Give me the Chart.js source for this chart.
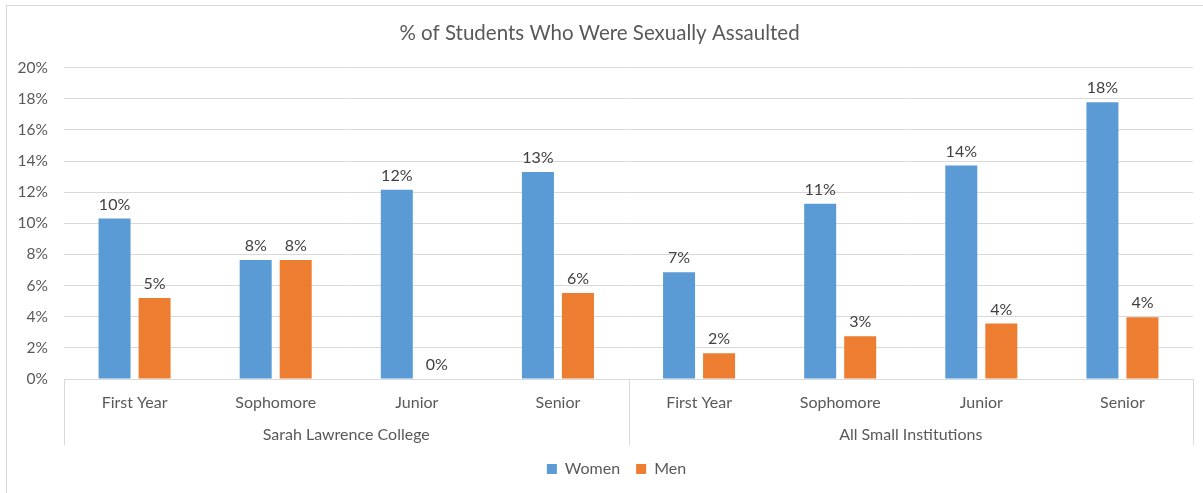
<!DOCTYPE html>
<html>
<head>
<meta charset="utf-8">
<script src="https://cdn.jsdelivr.net/npm/chart.js@4/dist/chart.umd.min.js"></script>
<style>
  html, body { margin: 0; padding: 0; background: #ffffff; }
  #wrap { position: absolute; left: 0; top: 0; width: 1203px; height: 493px; }
</style>
</head>
<body>
<div id="wrap"><canvas id="c" width="1203" height="493"></canvas></div>
<script>
const categories = ['First Year', 'Sophomore', 'Junior', 'Senior', 'First Year', 'Sophomore', 'Junior', 'Senior'];
const groups = ['Sarah Lawrence College', 'All Small Institutions'];
const women = [10.31, 7.65, 12.15, 13.29, 6.86, 11.25, 13.72, 17.77];
const men = [5.21, 7.65, 0, 5.53, 1.65, 2.74, 3.56, 3.96];
const yTicks = [0, 2, 4, 6, 8, 10, 12, 14, 16, 18, 20];

const FONT = 'Lato, "Open Sans", sans-serif';
const TEXT = '#595959';
const GRID = '#d9d9d9';

const framePlugin = {
  id: 'frame',
  beforeDraw(chart) {
    const ctx = chart.ctx;
    ctx.save();
    ctx.fillStyle = '#ffffff';
    ctx.fillRect(0, 0, chart.width, chart.height);
    ctx.strokeStyle = GRID;
    ctx.lineWidth = 1;
    ctx.strokeRect(6.5, 5.5, chart.width + 10, chart.height + 10);
    ctx.restore();
  }
};

const legendShiftPlugin = {
  id: 'legendShift',
  afterLayout(chart) {
    const lg = chart.legend;
    if (!lg) return;
    lg.left += 17; lg.right += 17;
  }
};

const groupAxisPlugin = {
  id: 'groupAxis',
  afterDraw(chart) {
    const x = chart.scales.x;
    const ctx = chart.ctx;
    const top = x.top;
    const bottom = x.top + 66;
    const mid = (x.getPixelForValue(3) + x.getPixelForValue(4)) / 2;
    ctx.save();
    ctx.strokeStyle = GRID;
    ctx.lineWidth = 1;
    [x.left, mid, x.right].forEach(px => {
      const p = Math.round(px) + 0.5;
      ctx.beginPath();
      ctx.moveTo(p, top);
      ctx.lineTo(p, bottom);
      ctx.stroke();
    });
    ctx.fillStyle = TEXT;
    ctx.font = '16px ' + FONT;
    ctx.textAlign = 'center';
    ctx.textBaseline = 'middle';
    ctx.fillText(groups[0], (x.left + mid) / 2, top + 56);
    ctx.fillText(groups[1], (mid + x.right) / 2, top + 56);
    ctx.restore();
  }
};

const dataLabelPlugin = {
  id: 'dataLabels',
  afterDatasetsDraw(chart) {
    const ctx = chart.ctx;
    ctx.save();
    ctx.fillStyle = '#404040';
    ctx.font = '16px ' + FONT;
    ctx.textAlign = 'center';
    ctx.textBaseline = 'bottom';
    chart.data.datasets.forEach((ds, di) => {
      const meta = chart.getDatasetMeta(di);
      meta.data.forEach((bar, i) => {
        ctx.fillText(Math.round(ds.data[i]) + '%', bar.x, bar.y - 6);
      });
    });
    ctx.restore();
  }
};

new Chart(document.getElementById('c'), {
  type: 'bar',
  data: {
    labels: categories,
    datasets: [
      { label: 'Women', data: women, backgroundColor: '#5b9bd5', categoryPercentage: 0.567, barPercentage: 0.8 },
      { label: 'Men', data: men, backgroundColor: '#ed7d31', categoryPercentage: 0.567, barPercentage: 0.8 }
    ]
  },
  options: {
    responsive: false,
    animation: false,
    devicePixelRatio: 1,
    layout: { padding: { left: 6, right: 10, top: 0, bottom: 6 } },
    plugins: {
      title: {
        display: true,
        text: '% of Students Who Were Sexually Assaulted',
        color: TEXT,
        font: { family: FONT, size: 20.5, weight: 'normal' },
        padding: { top: 21, bottom: 22 }
      },
      legend: {
        position: 'bottom',
        labels: {
          color: TEXT,
          font: { family: FONT, size: 16 },
          boxWidth: 10,
          boxHeight: 10,
          padding: 16
        }
      },
      tooltip: { enabled: false }
    },
    scales: {
      x: {
        grid: { display: false, drawTicks: false },
        border: { color: GRID },
        ticks: { color: TEXT, font: { family: FONT, size: 16 }, padding: 14, maxRotation: 0, autoSkip: false },
        afterFit(scale) { scale.height = 66; }
      },
      y: {
        min: 0,
        max: 20,
        afterBuildTicks(scale) { scale.ticks = yTicks.map(v => ({ value: v })); },
        grid: { color: GRID, drawTicks: false },
        border: { display: false },
        ticks: { color: TEXT, font: { family: FONT, size: 15.5 }, padding: 16, callback: v => v + '%' },
        afterFit(scale) { scale.width = 58; }
      }
    }
  },
  plugins: [framePlugin, legendShiftPlugin, groupAxisPlugin, dataLabelPlugin]
});
</script>
</body>
</html>
